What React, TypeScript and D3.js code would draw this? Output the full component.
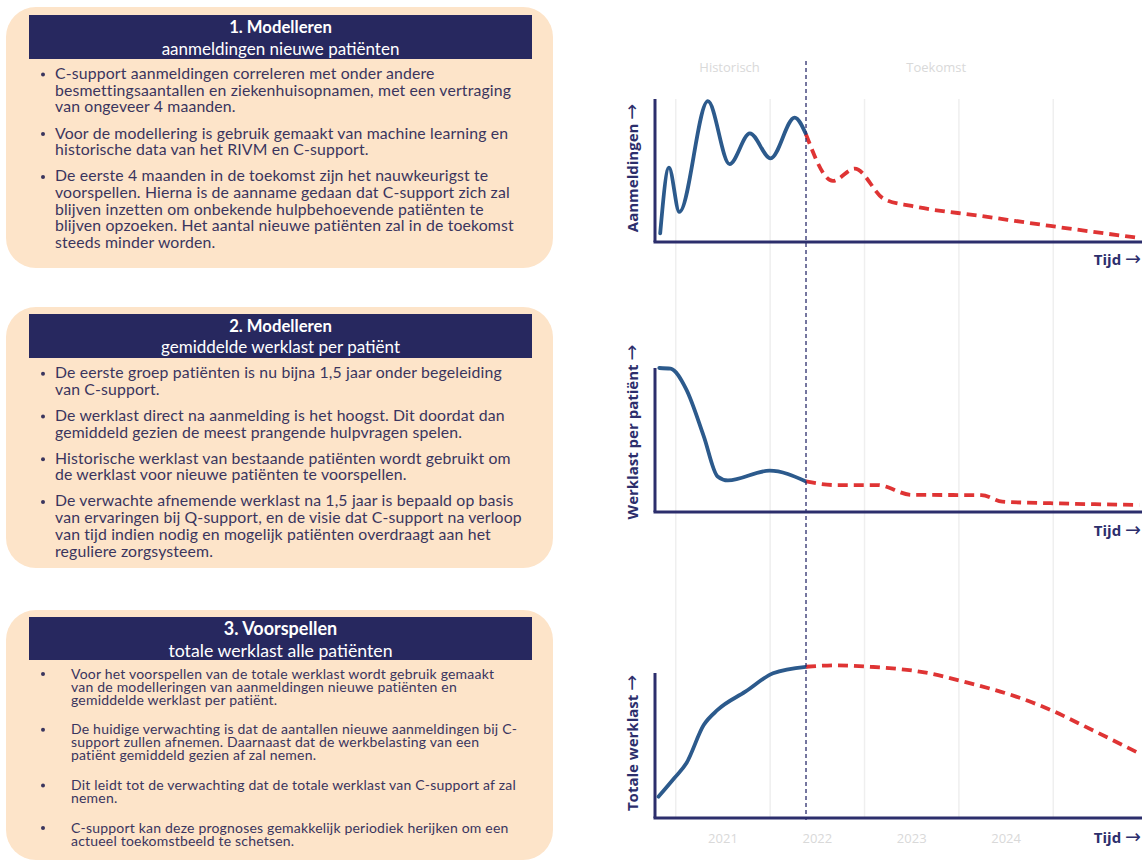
import React from 'react';
import * as d3 from 'd3';

// ---------- data ----------
const yearTicks = [2021, 2022, 2023, 2024];
const gridYears = [2020.5, 2021.5, 2022.5, 2023.5, 2024.5];
const splitYear = 2021.88;
const periodLabels = ['Historisch', 'Toekomst'];
const periodCenters = [2021.07, 2023.26];

const aanmeldHist: [number, number][] = [
  [2020.335, 6], [2020.428, 52], [2020.538, 21], [2020.84, 98.5], [2021.07, 54.5],
  [2021.285, 76], [2021.505, 58.5], [2021.76, 87], [2021.88, 75.3],
];
const aanmeldFut: [number, number][] = [
  [2021.88, 75.3], [2022.164, 42.7], [2022.396, 51.3], [2022.708, 30], [2023.0, 25.2],
  [2023.738, 18.2], [2024.47, 11.2], [2025.39, 3],
];
const werklastHist: [number, number][] = [
  [2020.325, 100], [2020.445, 99.5], [2020.61, 85.3], [2020.796, 52.7], [2020.943, 24.7],
  [2021.053, 21.9], [2021.494, 28.7], [2021.88, 21.2],
];
const werklastFut: [number, number][] = [
  [2021.88, 21.2], [2022.193, 18.7], [2022.635, 18.7], [2023.0, 11.9], [2023.738, 11.7],
  [2023.96, 7.2], [2024.47, 6.1], [2025.41, 4.9],
];
const totaalHist: [number, number][] = [
  [2020.317, 14.7], [2020.483, 27.4], [2020.612, 37.7], [2020.796, 64.1], [2020.943, 74.5],
  [2021.237, 87.1], [2021.531, 99.8], [2021.88, 104.3],
];
const totaalFut: [number, number][] = [
  [2021.88, 104.3], [2022.193, 105.3], [2022.56, 104.3], [2023.186, 99.8], [2023.553, 94],
  [2024.106, 83.7], [2024.473, 74.5], [2024.84, 63], [2025.41, 44.6],
];
const chartLabels = ['Aanmeldingen', 'Werklast per patiënt', 'Totale werklast'];
const xAxisLabel = 'Tijd';
const arrow = '→';

const panelTitles = ['1. Modelleren', '2. Modelleren', '3. Voorspellen'];
const panelSubtitles = ['aanmeldingen nieuwe patiënten', 'gemiddelde werklast per patiënt', 'totale werklast alle patiënten'];
const panel1Bullets = [
  ['C-support aanmeldingen correleren met onder andere', 'besmettingsaantallen en ziekenhuisopnamen, met een vertraging', 'van ongeveer 4 maanden.'],
  ['Voor de modellering is gebruik gemaakt van machine learning en', 'historische data van het RIVM en C-support.'],
  ['De eerste 4 maanden in de toekomst zijn het nauwkeurigst te', 'voorspellen. Hierna is de aanname gedaan dat C-support zich zal', 'blijven inzetten om onbekende hulpbehoevende patiënten te', 'blijven opzoeken. Het aantal nieuwe patiënten zal in de toekomst', 'steeds minder worden.'],
];
const panel2Bullets = [
  ['De eerste groep patiënten is nu bijna 1,5 jaar onder begeleiding', 'van C-support.'],
  ['De werklast direct na aanmelding is het hoogst. Dit doordat dan', 'gemiddeld gezien de meest prangende hulpvragen spelen.'],
  ['Historische werklast van bestaande patiënten wordt gebruikt om', 'de werklast voor nieuwe patiënten te voorspellen.'],
  ['De verwachte afnemende werklast na 1,5 jaar is bepaald op basis', 'van ervaringen bij Q-support, en de visie dat C-support na verloop', 'van tijd indien nodig en mogelijk patiënten overdraagt aan het', 'reguliere zorgsysteem.'],
];
const panel3Bullets = [
  ['Voor het voorspellen van de totale werklast wordt gebruik gemaakt', 'van de modelleringen van aanmeldingen nieuwe patiënten en', 'gemiddelde werklast per patiënt.'],
  ['De huidige verwachting is dat de aantallen nieuwe aanmeldingen bij C-', 'support zullen afnemen. Daarnaast dat de werkbelasting van een', 'patiënt gemiddeld gezien af zal nemen.'],
  ['Dit leidt tot de verwachting dat de totale werklast van C-support af zal', 'nemen.'],
  ['C-support kan deze prognoses gemakkelijk periodiek herijken om een', 'actueel toekomstbeeld te schetsen.'],
];

// ---------- styles ----------
const W = 1145, H = 863;
const NAVY = '#27285f';
const AXIS = '#2c2e6c';
const TEXT = '#3a355e';
const PEACH = '#fde4c9';
const BLUE = '#2c5a8c';
const RED = '#df3434';
const FAINT = '#d9d9d9';
const SANS = 'Lato, "Open Sans", sans-serif';
const LABEL_FONT = '"Open Sans", "Noto Sans", sans-serif';
const ARROW_FONT = '"DejaVu Sans", sans-serif';

const panels = [
  { box: [6, 7, 547, 261], head: [29, 15, 503, 44], titleY: 32.5, subY: 54.5, titleSize: 16.7, subSize: 17,
    bullets: panel1Bullets, start: 79, lineH: 16.6, gap: 26.3, size: 15.8, ls: 0.15, bx: 43, tx: 55 },
  { box: [6, 307, 547, 261], head: [29, 314, 503, 44], titleY: 331.5, subY: 352.5, titleSize: 16.7, subSize: 17,
    bullets: panel2Bullets, start: 378.3, lineH: 16.7, gap: 26, size: 15.8, ls: 0.15, bx: 43, tx: 55 },
  { box: [6, 610, 547, 250], head: [29, 617, 503, 43], titleY: 634.5, subY: 656.5, titleSize: 18, subSize: 17.7,
    bullets: panel3Bullets, start: 678.5, lineH: 13.1, gap: 29.5, size: 14, ls: 0.2, bx: 43, tx: 71 },
];

const x = d3.scaleLinear().domain([2020.28, 2025.44]).range([655, 1142]);

const charts = [
  { label: chartLabels[0], base: 242, top: 99, hist: aanmeldHist, fut: aanmeldFut, labelY: 168, tijdY: 265 },
  { label: chartLabels[1], base: 512, top: 368, hist: werklastHist, fut: werklastFut, labelY: 432, tijdY: 536 },
  { label: chartLabels[2], base: 818, top: 673, hist: totaalHist, fut: totaalFut, labelY: 743, tijdY: 843 },
];

function Panel({ p, i }: { p: typeof panels[number]; i: number }) {
  const rows: React.ReactNode[] = [];
  let yy = p.start;
  p.bullets.forEach((b, bi) => {
    rows.push(
      <circle key={`b${bi}`} cx={p.bx} cy={yy - 4.5} r={2} fill={TEXT} />
    );
    b.forEach((line, li) => {
      rows.push(
        <text key={`l${bi}-${li}`} x={p.tx} y={yy + li * p.lineH} fontSize={p.size} letterSpacing={p.ls} fill={TEXT} fontFamily={SANS}>{line}</text>
      );
    });
    yy += (b.length - 1) * p.lineH + p.gap;
  });
  const cx = p.head[0] + p.head[2] / 2;
  return (
    <g>
      <rect x={p.box[0]} y={p.box[1]} width={p.box[2]} height={p.box[3]} rx={30} ry={30} fill={PEACH} />
      <rect x={p.head[0]} y={p.head[1]} width={p.head[2]} height={p.head[3]} fill={NAVY} />
      <text x={cx} y={p.titleY} textAnchor="middle" fill="#fff" fontWeight="bold" fontSize={p.titleSize} fontFamily={SANS}>{panelTitles[i]}</text>
      <text x={cx} y={p.subY} textAnchor="middle" fill="#fff" fontSize={p.subSize} fontFamily={SANS}>{panelSubtitles[i]}</text>
      {rows}
    </g>
  );
}

export default function App() {
  const axisLeft = x.range()[0];
  const axisRight = x.range()[1];
  return (
    <svg width={W} height={H} viewBox={`0 0 ${W} ${H}`} style={{ position: 'absolute', left: 0, top: 0, background: '#fff' }}>
      {panels.map((p, i) => <Panel key={i} p={p} i={i} />)}

      {/* grid lines */}
      {gridYears.map((g) => (
        <line key={g} x1={x(g)} x2={x(g)} y1={99} y2={818} stroke="#efefef" strokeWidth={1.5} />
      ))}

      {/* period labels */}
      {periodLabels.map((t, i) => (
        <text key={t} x={x(periodCenters[i])} y={72} textAnchor="middle" fontSize={13} fill={FAINT} fontFamily={LABEL_FONT}>{t}</text>
      ))}

      {charts.map((c, ci) => {
        const y = d3.scaleLinear().domain([0, 100]).range([c.base, c.top]);
        const line = d3.line<[number, number]>().x((d) => x(d[0])).y((d) => y(d[1])).curve(d3.curveMonotoneX);
        return (
          <g key={ci}>
            <line x1={axisLeft} x2={axisLeft} y1={c.top} y2={c.base} stroke={AXIS} strokeWidth={3} />
            <line x1={axisLeft - 1.5} x2={axisRight} y1={c.base} y2={c.base} stroke={AXIS} strokeWidth={3} />
            <path d={line(c.hist) || ''} fill="none" stroke={BLUE} strokeWidth={3.8} strokeLinecap="round" />
            <path d={line(c.fut) || ''} fill="none" stroke={RED} strokeWidth={3.8} strokeDasharray="10,6" />
            <text transform={`translate(638,${c.labelY}) rotate(-90)`} textAnchor="middle" fontSize={15} fontWeight="bold" fill={AXIS} fontFamily={LABEL_FONT}>
              {c.label} <tspan fontFamily={ARROW_FONT} fontWeight="normal" fontSize={19}>{arrow}</tspan>
            </text>
            <text x={1141} y={c.tijdY} textAnchor="end" fontSize={15} fontWeight="bold" fill={AXIS} fontFamily={LABEL_FONT}>
              {xAxisLabel} <tspan fontFamily={ARROW_FONT} fontWeight="normal" fontSize={19}>{arrow}</tspan>
            </text>
          </g>
        );
      })}

      {/* split line */}
      <line x1={x(splitYear)} x2={x(splitYear)} y1={61} y2={820} stroke={AXIS} strokeWidth={1.3} strokeDasharray="4,3" />

      {/* year ticks */}
      {yearTicks.map((yr) => (
        <text key={yr} x={x(yr)} y={843} textAnchor="middle" fontSize={13} fill={FAINT} fontFamily={LABEL_FONT}>{yr}</text>
      ))}
    </svg>
  );
}
